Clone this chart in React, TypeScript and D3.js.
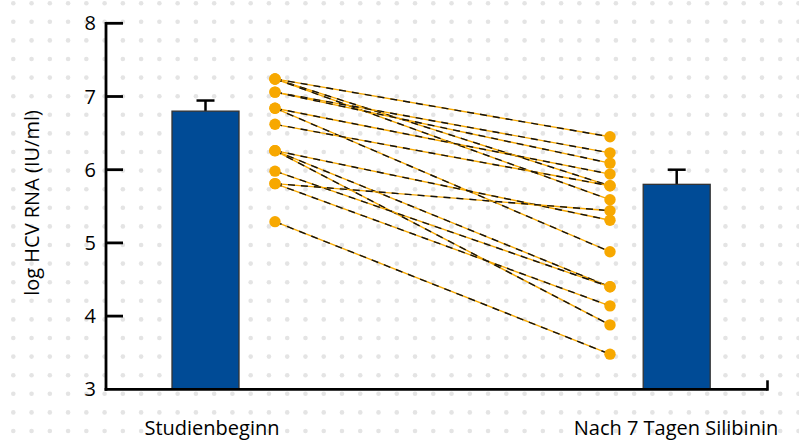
import React from "react";
import * as d3 from "d3";

const categories = ["Studienbeginn", "Nach 7 Tagen Silibinin"];
const barMeans = [6.8, 5.8];
const barErrors = [0.145, 0.2];
const yTicks = [3, 4, 5, 6, 7, 8];
const startValues = [7.24, 7.24, 7.24, 7.06, 7.06, 6.84, 6.84, 6.62, 6.26, 6.26, 6.26, 5.98, 5.81, 5.81, 5.29];
const endValues = [6.45, 5.78, 5.59, 6.23, 6.09, 5.94, 4.88, 5.78, 5.31, 4.4, 3.88, 4.4, 5.44, 4.14, 3.48];

const W = 799;
const H = 440;
const FONT = "'Open Sans', sans-serif";

export default function App() {
  const y = d3.scaleLinear().domain([3, 8]).range([389.3, 23.3]);
  const x = d3.scalePoint<string>().domain(categories).range([205.5, 676.7]);
  const axisX = 106;
  const axisRight = 767.5;
  const barW = 67;
  const leftPtX = (x(categories[0]) as number) + 69.5;
  const rightPtX = (x(categories[1]) as number) - 66.7;

  const dotXs = d3.range(0, 44).map((i) => 13.3 + i * 18.26);
  const dotYs = d3.range(0, 24).map((i) => 3.2 + i * 18.6);

  const orange = "#f7a800";
  const blue = "#004b96";

  return (
    <svg width={W} height={H} style={{ position: "absolute", left: 0, top: 0, background: "#fff" }}>
      <g>
        {dotYs.map((dy, j) =>
          dotXs.map((dx, i) => <circle key={`${i}-${j}`} cx={dx} cy={dy} r={2.3} fill="#e4e4e4" />)
        )}
      </g>

      {/* bars */}
      {categories.map((c, i) => {
        const cx = x(c) as number;
        const top = y(barMeans[i]);
        const errTop = y(barMeans[i] + barErrors[i]);
        return (
          <g key={c}>
            <line x1={cx} x2={cx} y1={top} y2={errTop} stroke="#000" strokeWidth={2.5} />
            <line x1={cx - 9} x2={cx + 9} y1={errTop} y2={errTop} stroke="#000" strokeWidth={2.5} />
            <rect x={cx - barW / 2} y={top} width={barW} height={y(3) - top} fill={blue} stroke="#333" strokeWidth={1.3} />
          </g>
        );
      })}

      {/* patient lines */}
      {startValues.map((s, i) => (
        <g key={`l${i}`}>
          <line x1={leftPtX} y1={y(s)} x2={rightPtX} y2={y(endValues[i])} stroke={orange} strokeWidth={1.4} />
          <line x1={leftPtX} y1={y(s)} x2={rightPtX} y2={y(endValues[i])} stroke="#111" strokeWidth={1.4} strokeDasharray="7,6" />
        </g>
      ))}
      {startValues.map((s, i) => (
        <circle key={`s${i}`} cx={leftPtX} cy={y(s)} r={5.7} fill={orange} />
      ))}
      {endValues.map((e, i) => (
        <circle key={`e${i}`} cx={rightPtX} cy={y(e)} r={5.7} fill={orange} />
      ))}

      {/* axes */}
      <line x1={axisX} x2={axisX} y1={y(8) - 1.4} y2={y(3) + 1.4} stroke="#000" strokeWidth={2.8} />
      <line x1={axisX - 1.4} x2={axisRight} y1={y(3)} y2={y(3)} stroke="#000" strokeWidth={2.8} />
      <line x1={axisRight} x2={axisRight} y1={y(3) + 1.4} y2={y(3) - 9} stroke="#000" strokeWidth={2.6} />
      {yTicks.map((t) => (
        <g key={t}>
          {t !== 3 && <line x1={axisX} x2={axisX + 17} y1={y(t)} y2={y(t)} stroke="#000" strokeWidth={2.8} />}
          <text x={96} y={y(t) + 7} textAnchor="end" fontFamily={FONT} fontSize={20} fill="#000">
            {t}
          </text>
        </g>
      ))}

      <text
        transform={`translate(39,203) rotate(-90)`}
        textAnchor="middle"
        fontFamily={FONT}
        fontSize={20}
        fill="#000"
      >
        log HCV RNA (IU/ml)
      </text>

      {categories.map((c, i) => (
        <text key={c} x={i === 0 ? 212 : 676} y={435} textAnchor="middle" fontFamily={FONT} fontSize={20} fill="#000">
          {c}
        </text>
      ))}
    </svg>
  );
}
